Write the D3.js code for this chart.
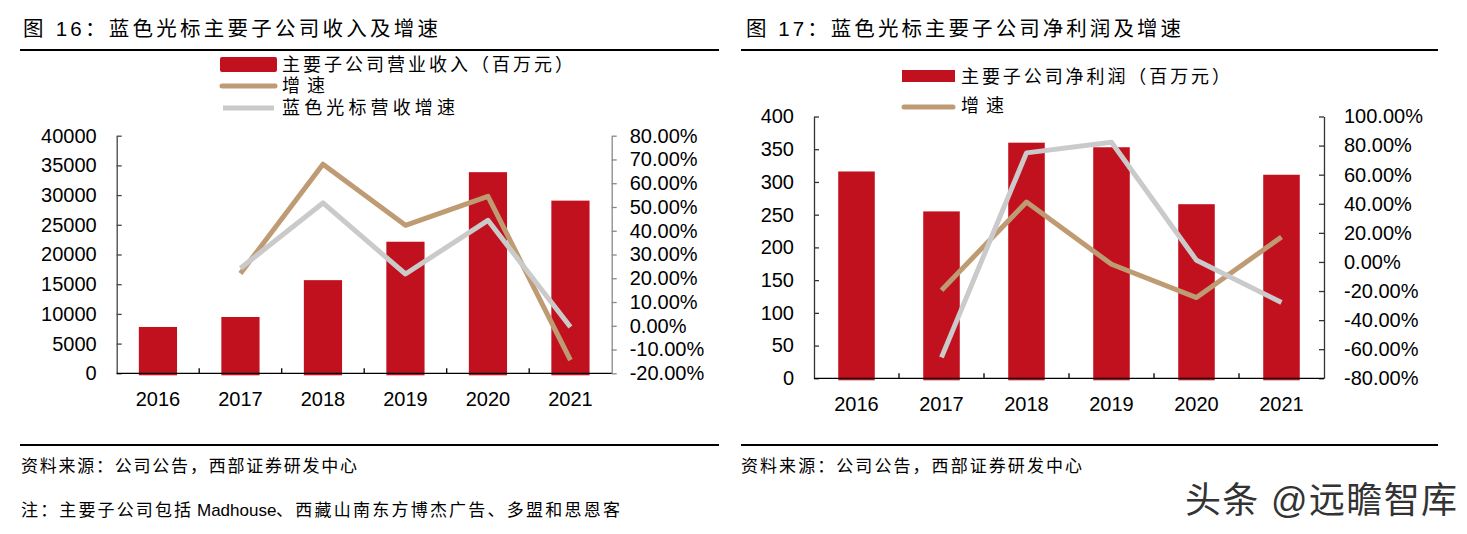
<!DOCTYPE html>
<html><head><meta charset="utf-8">
<script src="https://cdn.jsdelivr.net/npm/d3@7"></script>
<style>
body{margin:0;background:#fff}
svg{display:block}
text{font-family:"Liberation Sans","Noto Sans CJK SC",sans-serif;fill:#000}
</style>
</head><body>
<svg id="c" width="1467" height="534"></svg>
<script>
// ---------- data ----------
const years = ["2016","2017","2018","2019","2020","2021"];
const revenue = [7800, 9480, 15680, 22150, 33860, 29070];
const revenueGrowth = [null, 22.0, 68.0, 42.3, 54.5, -14.5];
const blueRevenueGrowth = [null, 24.2, 51.7, 21.8, 44.4, -0.5];
const profit = [316, 255, 360, 353, 266, 311];
const profitGrowth = [null, -19.4, 41.2, -1.6, -24.5, 17.2];
const blueProfitGrowth = [null, -65.6, 75.0, 82.3, 1.1, -27.9];
const revTicks = [0,5000,10000,15000,20000,25000,30000,35000,40000];
const revPctTicks = [-20,-10,0,10,20,30,40,50,60,70,80];
const profitTicks = [0,50,100,150,200,250,300,350,400];
const profitPctTicks = [-80,-60,-40,-20,0,20,40,60,80,100];
const titles = ["图 16：蓝色光标主要子公司收入及增速", "图 17：蓝色光标主要子公司净利润及增速"];
const legend1 = ["主要子公司营业收入（百万元）", "增速", "蓝色光标营收增速"];
const legend2 = ["主要子公司净利润（百万元）", "增速"];
const sourceText = "资料来源：公司公告，西部证券研发中心";
const noteParts = ["注：主要子公司包括", "Madhouse", "、西藏山南东方博杰广告、多盟和思恩客"];
const watermark = "头条 @远瞻智库";

// ---------- style ----------
const RED = "#C1101E", BROWN = "#BF9B73", GRAY = "#CACACA";
const svg = d3.select("#c");

function txt(x, y, s, size, len, extra) {
  const t = svg.append("text").attr("x", x).attr("y", y).attr("font-size", size)
    .attr("dominant-baseline", "central").text(s);
  if (len) t.attr("textLength", len).attr("lengthAdjust", "spacing");
  if (extra) extra(t);
  return t;
}
function rule(x0, x1, y) {
  svg.append("line").attr("x1", x0).attr("x2", x1).attr("y1", y).attr("y2", y)
    .attr("stroke", "#000").attr("stroke-width", 2);
}

function drawChart(o) {
  const g = svg.append("g");
  const x = d3.scaleBand().domain(years).range([o.x0, o.x1]).paddingInner(o.pad).paddingOuter(o.pad / 2);
  const yL = d3.scaleLinear().domain(o.lDom).range([o.yB, o.yT]);
  const yR = d3.scaleLinear().domain(o.rDom).range([o.yB, o.yT]);
  const cx = d => x(d) + x.bandwidth() / 2;

  // bars
  g.selectAll("rect.bar").data(years).join("rect").attr("class", "bar")
    .attr("x", d => x(d)).attr("width", x.bandwidth())
    .attr("y", (d, i) => yL(o.bars[i]))
    .attr("height", (d, i) => yL(0) - yL(o.bars[i]) + 2)
    .attr("fill", RED);

  // left axis
  const la = g.append("g").attr("transform", `translate(${o.x0},0)`)
    .call(d3.axisLeft(yL).tickValues(o.lTicks).tickSize(-5).tickSizeOuter(0).tickPadding(20).tickFormat(d3.format("d")));
  // right axis
  const ra = g.append("g").attr("transform", `translate(${o.x1},0)`)
    .call(d3.axisRight(yR).tickValues(o.rTicks).tickSize(o.rTick).tickSizeOuter(0).tickPadding(o.rPad)
      .tickFormat(d => d.toFixed(2) + "%"));
  [[la, o.lColor], [ra, o.rColor]].forEach(([a, c]) => {
    a.attr("font-family", null).attr("font-size", null);
    a.selectAll("path,line").attr("stroke", c).attr("stroke-width", 1.3);
    a.selectAll("text").attr("font-size", 20).attr("fill", "#000");
  });

  // bottom axis
  g.append("line").attr("x1", o.x0).attr("x2", o.x1).attr("y1", o.yB).attr("y2", o.yB)
    .attr("stroke", "#000").attr("stroke-width", 1.3);
  g.selectAll("line.xt").data(years.slice(1)).join("line").attr("class", "xt")
    .attr("x1", d => x(d) - x.step() * x.paddingInner() / 2)
    .attr("x2", d => x(d) - x.step() * x.paddingInner() / 2)
    .attr("y1", o.yB).attr("y2", o.yB - 5).attr("stroke", "#000").attr("stroke-width", 1.3);
  g.selectAll("text.xl").data(years).join("text").attr("class", "xl")
    .attr("x", cx).attr("y", o.xLabelY).attr("text-anchor", "middle")
    .attr("dominant-baseline", "central").attr("font-size", 20).text(d => d);

  // lines
  const line = d3.line().defined(d => d.v != null).x(d => cx(d.k)).y(d => yR(d.v));
  o.lines.forEach(l => {
    g.append("path").datum(years.map((k, i) => ({k, v: l.values[i]})))
      .attr("d", line).attr("fill", "none").attr("stroke", l.color)
      .attr("stroke-width", 5).attr("stroke-linejoin", "round");
  });
}

// ---------- chart 16 ----------
txt(23, 28, titles[0], 20.5, 415);
rule(20, 719, 50);
svg.append("rect").attr("x", 220).attr("y", 57).attr("width", 57).attr("height", 15).attr("rx", 2).attr("fill", RED);
svg.append("line").attr("x1", 222).attr("x2", 275).attr("y1", 86).attr("y2", 86).attr("stroke", BROWN).attr("stroke-width", 5).attr("stroke-linecap", "round");
svg.append("line").attr("x1", 223).attr("x2", 274).attr("y1", 108).attr("y2", 108).attr("stroke", GRAY).attr("stroke-width", 5);
txt(282, 64.5, legend1[0], 18, 291);
txt(282, 86, legend1[1], 18, 43);
txt(282, 108, legend1[2], 18, 173);

drawChart({
  x0: 116.7, x1: 611.7, yT: 135.7, yB: 373.3, pad: 0.537,
  lDom: [0, 40000], rDom: [-20, 80], lTicks: revTicks, rTicks: revPctTicks,
  bars: revenue, rTick: 5, rPad: 13, lColor: "#444", rColor: "#888", xLabelY: 398.5,
  lines: [{values: revenueGrowth, color: BROWN}, {values: blueRevenueGrowth, color: GRAY}]
});

rule(20, 719, 445);
txt(21, 466, sourceText, 17, 336);
txt(21, 510, noteParts[0], 17, 170);
txt(197, 510, noteParts[1], 17, null);
txt(276, 510, noteParts[2], 17, 344);

// ---------- chart 17 ----------
txt(746, 28, titles[1], 20.5, 435);
rule(741, 1438, 50);
svg.append("rect").attr("x", 902).attr("y", 70).attr("width", 53).attr("height", 12).attr("fill", RED);
svg.append("line").attr("x1", 904).attr("x2", 953).attr("y1", 107).attr("y2", 107).attr("stroke", BROWN).attr("stroke-width", 5).attr("stroke-linecap", "round");
txt(961, 76.5, legend2[0], 18, 269);
txt(961, 106, legend2[1], 18, 43);

drawChart({
  x0: 814, x1: 1324, yT: 116.5, yB: 378.3, pad: 0.57,
  lDom: [0, 400], rDom: [-80, 100], lTicks: profitTicks, rTicks: profitPctTicks,
  bars: profit, rTick: -5, rPad: 20, lColor: "#333", rColor: "#333", xLabelY: 403.5,
  lines: [{values: profitGrowth, color: BROWN}, {values: blueProfitGrowth, color: GRAY}]
});

rule(741, 1438, 445);
txt(741, 466, sourceText, 17, 341);
txt(1185, 500, watermark, 36, 272, t => t.style("fill", "#333"));
</script>
</body></html>
